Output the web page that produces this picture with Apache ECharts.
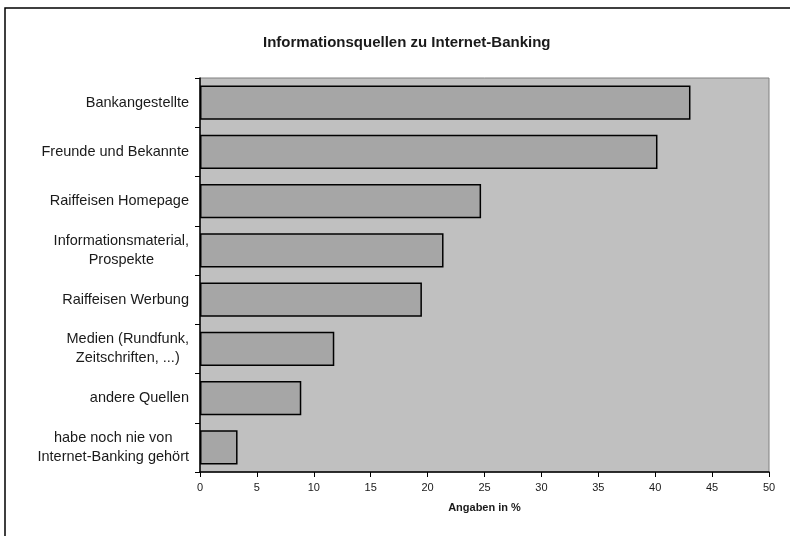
<!DOCTYPE html>
<html>
<head>
<meta charset="utf-8">
<script src="https://cdn.jsdelivr.net/npm/echarts@6/dist/echarts.min.js"></script>
<style>
  html, body { margin: 0; padding: 0; background: #fff; }
  #chart { width: 790px; height: 536px; }
</style>
</head>
<body>
<div id="chart"></div>
<script>
// Information sources for internet banking (share of answers, %)
const chartTitle = 'Informationsquellen zu Internet-Banking';
const axisTitle = 'Angaben in %';
const categories = [
  'Bankangestellte',
  'Freunde und Bekannte',
  'Raiffeisen Homepage',
  'Informationsmaterial,\nProspekte',
  'Raiffeisen Werbung',
  'Medien (Rundfunk,\nZeitschriften, ...)',
  'andere Quellen',
  'habe noch nie von\nInternet-Banking gehört'
];
const shares = [43.1, 40.2, 24.7, 21.4, 19.5, 11.8, 8.9, 3.3];
const xMin = 0, xMax = 50, xStep = 5;

const FONT = 'Liberation Sans, Arial, sans-serif';
const TEXT = '#1a1a1a';

const chart = echarts.init(document.getElementById('chart'), null, { renderer: 'canvas' });

chart.setOption({
  animation: false,
  backgroundColor: '#ffffff',
  graphic: [{
    type: 'rect',
    shape: { x: 5, y: 8, width: 820, height: 560 },
    style: { fill: 'none', stroke: '#000', lineWidth: 1.5 },
    silent: true
  }],
  title: {
    text: chartTitle,
    left: 258,
    top: 30,
    textStyle: { fontFamily: FONT, fontWeight: 'bold', fontSize: 15, color: TEXT }
  },
  grid: {
    left: 200, right: 21, top: 78, bottom: 64,
    show: true,
    backgroundColor: '#c0c0c0',
    borderColor: '#808080',
    borderWidth: 1
  },
  xAxis: {
    type: 'value',
    min: xMin, max: xMax, interval: xStep,
    name: axisTitle,
    nameLocation: 'middle',
    nameGap: 30,
    nameTextStyle: { fontFamily: FONT, fontWeight: 'bold', fontSize: 11, color: TEXT },
    axisLine: { show: true, lineStyle: { color: '#000', width: 1.5 } },
    axisTick: { show: true, length: 5, lineStyle: { color: '#000' } },
    axisLabel: { margin: 10, fontFamily: FONT, fontSize: 11, color: TEXT },
    splitLine: { show: false }
  },
  yAxis: {
    type: 'category',
    inverse: true,
    data: categories,
    axisLine: { show: true, lineStyle: { color: '#000', width: 1.5 } },
    axisTick: { show: true, length: 5, lineStyle: { color: '#000' } },
    axisLabel: {
      margin: 11,
      color: TEXT,
      fontFamily: FONT,
      fontSize: 14.5,
      lineHeight: 19,
      formatter: function (v) {
        return v.split('\n').map(function (s) { return '{c|' + s + '}'; }).join('\n');
      },
      rich: {
        c: { align: 'center', fontFamily: FONT, fontSize: 14.5, lineHeight: 19, color: TEXT }
      }
    }
  },
  series: [{
    type: 'bar',
    data: shares,
    barCategoryGap: '30%',
    itemStyle: { color: '#a6a6a6', borderColor: '#000', borderWidth: 1.5 },
    silent: true
  }]
});
</script>
</body>
</html>
